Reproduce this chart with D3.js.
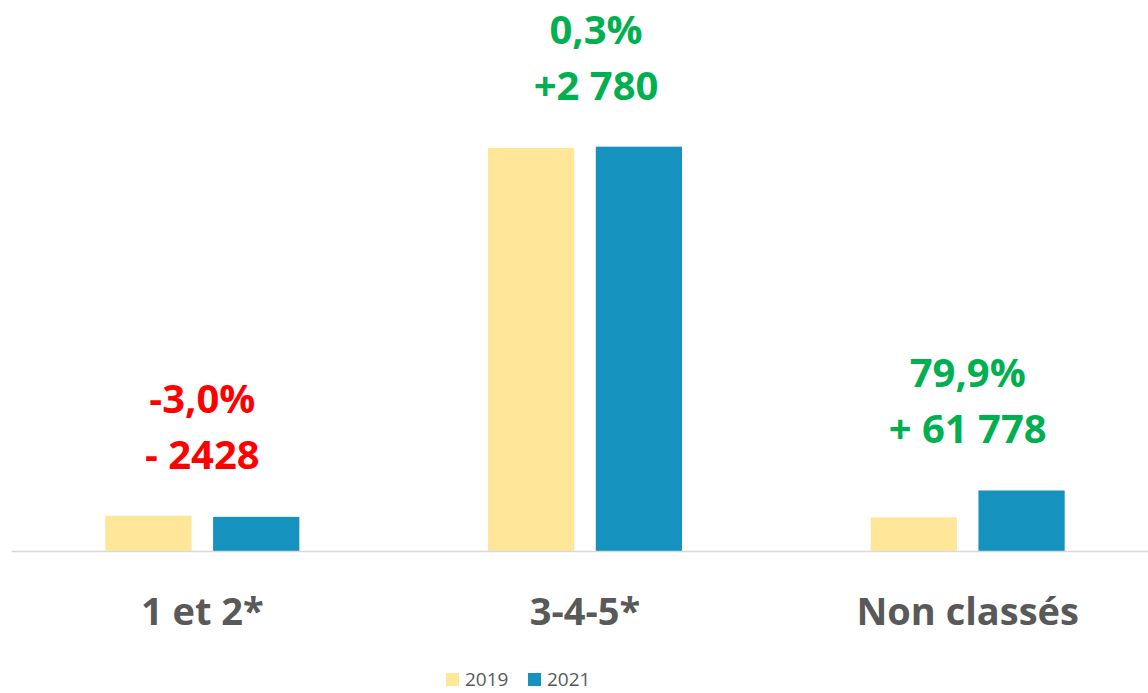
<!DOCTYPE html>
<html>
<head>
<meta charset="utf-8">
<script src="https://cdn.jsdelivr.net/npm/d3@7"></script>
<style>
    body { margin: 0; background: #fff; }
    svg { display: block; font-family: "Open Sans", "Noto Sans", sans-serif; }
</style>
</head>
<body>
<svg id="chart" width="1148" height="693"></svg>
<script>
// data
var categories = ["1 et 2*", "3-4-5*", "Non classés"];
var series = ["2019", "2021"];
var values2019 = [80900, 926700, 77300];
var values2021 = [78500, 929500, 139100];
var pctLabels = ["-3,0%", "0,3%", "79,9%"];
var diffLabels = ["- 2428", "+2 780", "+ 61 778"];

var colors = { "2019": "#FFE699", "2021": "#1592BD" };

var width = 1148, height = 693;
var svg = d3.select("#chart");

var x0 = d3.scaleBand()
    .domain(categories)
    .range([11, 1159]);

var half = x0.bandwidth() / 2;
var x1 = d3.scaleBand()
    .domain(series)
    .range([half - 97, half + 97])
    .paddingInner(0.2);

var y = d3.scaleLinear()
    .domain([0, 1000000])
    .range([551, 116]);

var rows = categories.map(function(c, i) {
    return { cat: c, v: { "2019": values2019[i], "2021": values2021[i] }, pct: pctLabels[i], diff: diffLabels[i] };
});

// bars
var groups = svg.append("g").selectAll("g")
    .data(rows)
    .enter().append("g")
    .attr("transform", d => "translate(" + x0(d.cat) + ",0)");

groups.selectAll("rect")
    .data(d => series.map(s => ({ s: s, v: d.v[s] })))
    .enter().append("rect")
    .attr("x", d => x1(d.s))
    .attr("width", x1.bandwidth())
    .attr("y", d => y(d.v))
    .attr("height", d => y(0) - y(d.v))
    .style("fill", d => colors[d.s]);

// axis line + category labels
var axis = svg.append("g")
    .attr("transform", "translate(0," + y(0) + ")")
    .call(d3.axisBottom(x0).tickSize(0));
axis.select(".domain").attr("stroke", "#d9d9d9").attr("stroke-width", 1.5);
axis.selectAll("text")
    .attr("y", 74)
    .attr("dy", 0)
    .style("font-family", "'Open Sans', sans-serif")
    .style("font-size", "38px")
    .style("font-weight", "bold")
    .style("fill", "#595959");

// change annotations above each group
var notes = svg.append("g").selectAll("g")
    .data(rows)
    .enter().append("g")
    .attr("transform", d => "translate(" + (x0(d.cat) + half + (d.cat === "3-4-5*" ? 11 : 0)) + ",0)")
    .style("fill", d => d.v["2021"] >= d.v["2019"] ? "#00B050" : "#FF0000")
    .style("font-size", "40px")
    .style("font-weight", "bold")
    .attr("text-anchor", "middle");

notes.append("text")
    .attr("y", d => y(d3.max(series, s => d.v[s])) - 103)
    .text(d => d.pct);
notes.append("text")
    .attr("y", d => y(d3.max(series, s => d.v[s])) - 47)
    .text(d => d.diff);

// legend
var legend = svg.append("g")
    .attr("transform", "translate(446,673)");
var item = legend.selectAll("g")
    .data(series)
    .enter().append("g")
    .attr("transform", (d, i) => "translate(" + (i * 82) + ",0)");
item.append("rect")
    .attr("width", 13)
    .attr("height", 13)
    .style("fill", d => colors[d]);
item.append("text")
    .attr("x", 19)
    .attr("y", 13)
    .style("font-size", "19px")
    .style("fill", "#595959")
    .text(d => d);
</script>
</body>
</html>
